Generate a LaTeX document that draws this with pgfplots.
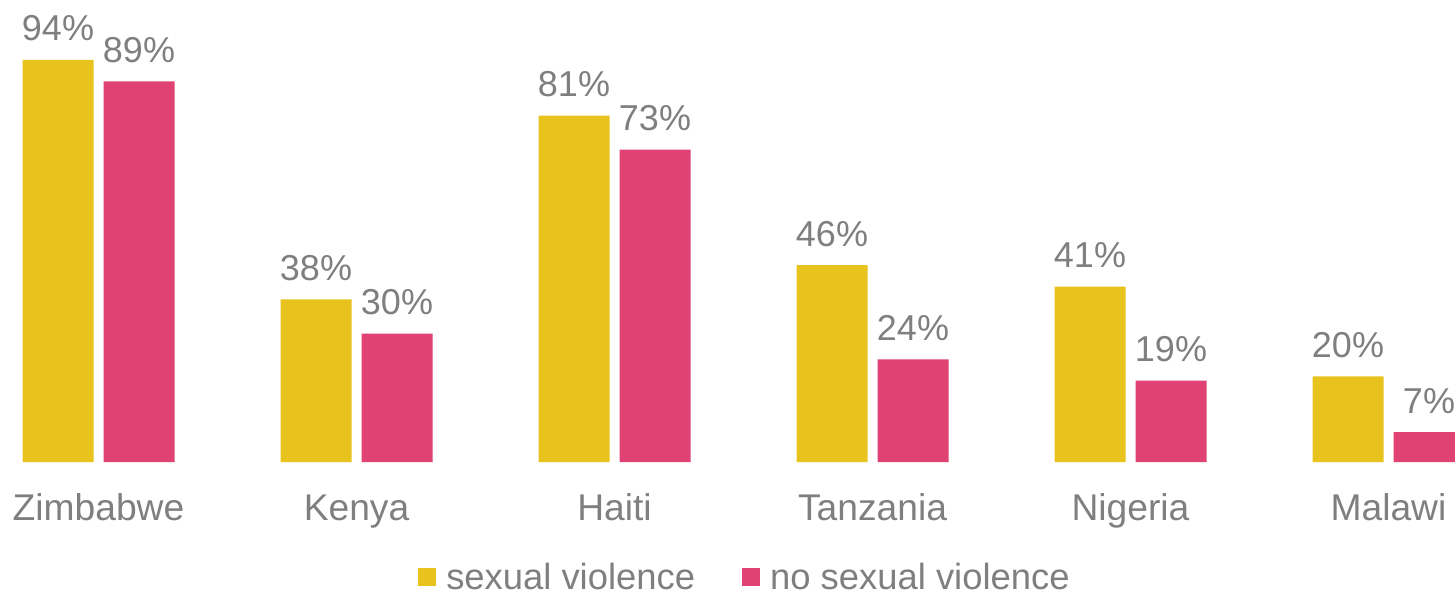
\documentclass[border=0pt]{standalone}
\usepackage{fontspec}
\setmainfont{Liberation Sans}
\usepackage{pgfplots}
\pgfplotsset{compat=1.18}
\definecolor{sv}{HTML}{E8C31E}
\definecolor{nsv}{HTML}{DF4273}
\definecolor{txt}{HTML}{7F7F7F}
\newcommand{\chartfont}{\fontsize{36}{40}\selectfont}
\newcommand{\catfont}{\fontsize{37.2}{40}\selectfont}
\newcommand{\legfont}{\fontsize{36.4}{40}\selectfont}

\begin{document}
\begin{tikzpicture}
\useasboundingbox (0,-133pt) rectangle (1455pt,462pt);
\begin{axis}[
  ybar=10pt,
  bar width=71pt,
  scale only axis,
  width=1455pt, height=462pt,
  xmin=-0.3818, xmax=5.2578,
  ymin=0, ymax=108,
  axis line style={draw=none},
  major tick length=0pt,
  ytick=\empty,
  xtick=data,
  xticklabels={Zimbabwe, Kenya, Haiti, Tanzania, Nigeria, Malawi},
  xticklabel style={font=\catfont, text=txt, anchor=base, inner sep=0pt, yshift=-58pt},
  /pgf/number format/assume math mode=true,
  nodes near coords={\pgfmathprintnumber{\pgfplotspointmeta}\%},
  every node near coord/.append style={font=\chartfont, text=txt, anchor=base, inner sep=0pt, yshift=19pt},
  clip=false,
  legend columns=2,
  legend style={at={(0.512,-0.249)}, anchor=center, draw=none, fill=none,
    font=\legfont, text=txt,
    /tikz/every even column/.append style={column sep=45pt}},
  legend image code/.code={\fill (0pt,-9pt) rectangle (18pt,9pt);},
]
  \addplot[fill=sv, draw=none] coordinates {(0,94) (1,38) (2,81) (3,46) (4,41) (5,20)};
  \addplot[fill=nsv, draw=none] coordinates {(0,89) (1,30) (2,73) (3,24) (4,19) (5,7)};
  \legend{\hspace*{8pt}sexual violence, \hspace*{8pt}no sexual violence}
\end{axis}
\end{tikzpicture}
\end{document}
